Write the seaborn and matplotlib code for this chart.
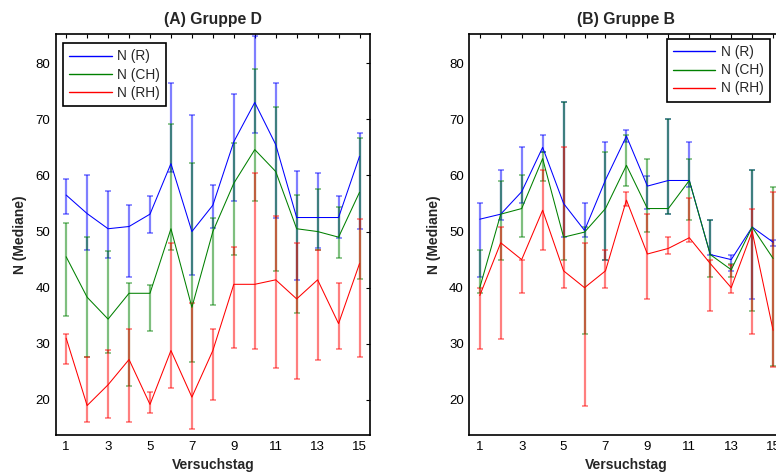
import numpy as np
import pandas as pd
import matplotlib
matplotlib.use("Agg")
import matplotlib.pyplot as plt
import seaborn as sns

# ---- data ----
days = list(range(1, 16))
series_names = ["N (R)", "N (CH)", "N (RH)"]
series_colors = ["#0000ff", "#008000", "#ff0000"]

# (A) Gruppe D
D_R = [56.5, 53.2, 50.5, 50.9, 53.1, 62.1, 50.0, 54.7, 66.0, 73.0, 65.5, 52.5, 52.5, 52.5, 63.4]
D_R_hi = [59.4, 60.0, 57.3, 54.8, 56.3, 76.4, 70.7, 58.3, 74.5, 84.8, 76.4, 60.8, 60.4, 56.3, 67.6]
D_R_lo = [53.1, 46.7, 45.3, 41.9, 49.8, 60.6, 42.3, 50.7, 55.5, 67.5, 52.5, 41.3, 47.0, 48.9, 50.5]

D_CH = [45.5, 38.3, 34.4, 39.0, 39.0, 50.5, 36.5, 50.0, 58.6, 64.6, 60.7, 50.5, 50.0, 49.0, 57.0]
D_CH_hi = [51.5, 49.0, 46.5, 40.9, 40.5, 69.2, 62.3, 52.5, 65.8, 78.9, 72.2, 56.5, 57.5, 54.4, 66.7]
D_CH_lo = [34.9, 27.7, 28.3, 22.5, 32.2, 46.8, 26.8, 36.9, 45.9, 55.5, 43.0, 35.5, 46.8, 45.3, 41.5]

D_RH = [31.0, 19.0, 22.7, 27.2, 19.2, 28.8, 20.5, 28.8, 40.6, 40.6, 41.4, 38.0, 41.4, 33.6, 44.3]
D_RH_hi = [31.7, 27.6, 28.9, 32.6, 21.4, 47.9, 37.3, 32.6, 47.3, 60.4, 52.8, 47.9, 46.8, 40.9, 52.3]
D_RH_lo = [26.4, 16.0, 16.8, 16.0, 17.7, 22.2, 14.8, 19.9, 29.2, 29.0, 25.7, 23.8, 27.2, 29.0, 27.6]

# (B) Gruppe B
B_R = [52.2, 53.1, 57.1, 65.0, 55.0, 50.2, 59.2, 67.0, 58.1, 59.1, 59.1, 45.9, 45.0, 50.8, 48.1]
B_R_hi = [55.0, 61.0, 65.0, 67.2, 73.0, 55.0, 66.0, 68.1, 59.9, 70.0, 65.9, 52.1, 45.9, 61.0, 48.5]
B_R_lo = [41.9, 52.0, 55.0, 64.2, 49.0, 49.0, 45.0, 66.0, 54.0, 53.1, 58.0, 45.9, 43.0, 38.0, 47.5]

B_CH = [40.0, 53.1, 54.1, 63.0, 49.0, 49.9, 54.1, 61.8, 54.1, 54.1, 59.1, 45.9, 43.2, 50.8, 45.2]
B_CH_hi = [46.8, 59.0, 60.0, 64.2, 73.1, 50.8, 64.2, 67.2, 63.0, 70.0, 63.0, 52.1, 44.3, 61.0, 58.0]
B_CH_lo = [39.0, 45.0, 49.0, 59.0, 45.0, 31.8, 45.0, 58.1, 50.0, 53.1, 52.1, 41.9, 41.9, 35.9, 26.0]

B_RH = [38.6, 48.0, 45.0, 53.8, 43.0, 40.0, 43.0, 55.6, 46.0, 47.0, 48.9, 44.3, 40.0, 50.0, 32.4]
B_RH_hi = [40.0, 50.8, 45.0, 61.0, 65.0, 48.0, 46.8, 57.1, 53.1, 49.0, 55.9, 44.9, 44.0, 54.1, 57.1]
B_RH_lo = [29.0, 30.9, 39.0, 46.8, 40.0, 19.0, 40.0, 54.5, 38.0, 46.0, 48.1, 35.9, 39.0, 31.8, 25.8]

panels = [
    ("(A) Gruppe D", [(D_R, D_R_lo, D_R_hi), (D_CH, D_CH_lo, D_CH_hi), (D_RH, D_RH_lo, D_RH_hi)]),
    ("(B) Gruppe B", [(B_R, B_R_lo, B_R_hi), (B_CH, B_CH_lo, B_CH_hi), (B_RH, B_RH_lo, B_RH_hi)]),
]

# ---- style ----
sns.set_theme(style="white")
plt.rcParams["font.family"] = ["Liberation Sans", "DejaVu Sans"]

W, H = 776, 472
fig = plt.figure(figsize=(W / 100, H / 100), dpi=100)
ax_bottom = 1 - 435 / H
ax_height = (435 - 34) / H
ax_width = (370 - 55.7) / W
axA = fig.add_axes([55.7 / W, ax_bottom, ax_width, ax_height])
axB = fig.add_axes([469.3 / W, ax_bottom, ax_width, ax_height])

legend_anchor = [
    dict(loc="upper left", bbox_to_anchor=(62.7 / W, 1 - 43.3 / H)),
    dict(loc="upper right", bbox_to_anchor=(770 / W, 1 - 39 / H)),
]

for ax, (title, data), lg in zip([axA, axB], panels, legend_anchor):
    rows = []
    for name, (vals, lo, hi) in zip(series_names, data):
        for d, v in zip(days, vals):
            rows.append({"Versuchstag": d, "N": v, "Serie": name})
    df = pd.DataFrame(rows)

    # error bars
    for name, col, (vals, lo, hi) in zip(series_names, series_colors, data):
        v = np.array(vals)
        yerr = np.vstack([v - np.array(lo), np.array(hi) - v])
        ax.errorbar(days, v, yerr=yerr, fmt="none", ecolor=col,
                    elinewidth=1.6, capsize=2.0, capthick=1.2,
                    alpha=0.5, zorder=2)

    sns.lineplot(data=df, x="Versuchstag", y="N", hue="Serie",
                 hue_order=series_names, palette=series_colors,
                 linewidth=0.75, ax=ax, zorder=3, estimator=None, legend=True)

    handles, labels = ax.get_legend_handles_labels()
    leg = ax.legend(handles, labels, bbox_transform=fig.transFigure,
                    borderaxespad=0, fontsize=9.9, frameon=True,
                    fancybox=False, framealpha=1, edgecolor="black",
                    handlelength=3.1, handletextpad=0.4, labelspacing=0.3,
                    borderpad=0.45, **lg)
    leg.get_frame().set_linewidth(1.2)
    for h in leg.get_lines():
        h.set_linewidth(1.0)

    ax.set_xlim(0.5, 15.5)
    ax.set_ylim(13.75, 85.2)
    ax.set_xticks(days)
    ax.set_xticklabels([str(d) if d % 2 == 1 else "" for d in days])
    ax.set_yticks([20, 30, 40, 50, 60, 70, 80])
    ax.tick_params(direction="in", top=True, right=True, length=3,
                   width=0.8, labelsize=9.5, colors="black", pad=4)
    for s in ax.spines.values():
        s.set_color("black")
        s.set_linewidth(1.2)
    ax.set_xlabel("Versuchstag", fontsize=10, fontweight="bold", labelpad=4)
    ax.set_ylabel("N (Mediane)", fontsize=10, fontweight="bold", labelpad=6)
    ax.set_title(title, fontsize=11.3, fontweight="bold", pad=7)

fig.savefig("out.png", dpi=100)
